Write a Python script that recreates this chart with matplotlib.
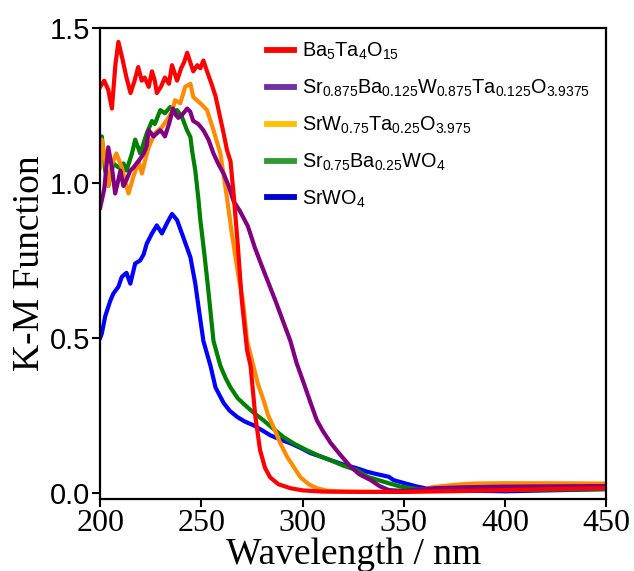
import matplotlib
matplotlib.use("Agg")
import matplotlib.pyplot as plt
from matplotlib.lines import Line2D

# Ba5Ta4O15
red_x = [200, 202, 204, 205.8, 207.5, 209, 211, 213, 215, 217, 218.8, 220.5, 222, 224, 225.6, 227, 228, 230, 232,
         234, 235.5, 237, 238, 240, 241.5, 243, 244.5, 246, 248, 249.5, 251, 252.8, 255, 257, 259, 261, 262.7, 264.4,
         266, 268, 270, 272.6, 274.3, 276.7, 279, 281.5, 284, 288, 294, 300, 310, 330, 350, 380, 400, 420, 450]
red_y = [1.31, 1.33, 1.30, 1.24, 1.38, 1.455, 1.40, 1.34, 1.29, 1.33, 1.374, 1.33, 1.34, 1.31, 1.36, 1.33, 1.29, 1.31,
         1.34, 1.32, 1.38, 1.35, 1.33, 1.37, 1.39, 1.42, 1.39, 1.36, 1.38, 1.37, 1.395, 1.36, 1.32, 1.28, 1.22, 1.16,
         1.105, 1.07, 0.96, 0.80, 0.62, 0.46, 0.41, 0.245, 0.138, 0.08, 0.05, 0.028, 0.015, 0.008, 0.004, 0.003, 0.003,
         0.006, 0.009, 0.012, 0.015]

# Sr0.875Ba0.125W0.875Ta0.125O3.9375
pur_x = [200, 202, 204, 205.8, 207.4, 209, 210, 211.5, 213, 214.9, 216.5, 218, 220, 221.5, 223, 224, 225.2, 226.4, 228,
         229.7, 231, 232, 234, 236, 237.3, 238.6, 240.5, 243, 244.5, 246, 248.5, 251, 253.5, 256, 258.5, 261, 263.5,
         266, 269, 273, 276.5, 280, 283, 286.6, 290, 294, 297, 300.6, 304, 307, 310, 314, 319, 323.8, 328, 333.7, 338,
         342.6, 350, 365, 380, 398, 420, 450]
pur_y = [0.92, 0.98, 1.115, 1.05, 0.966, 1.01, 1.04, 0.99, 1.01, 1.04, 1.05, 1.063, 1.08, 1.095, 1.12, 1.17, 1.16, 1.15,
         1.16, 1.17, 1.16, 1.15, 1.19, 1.24, 1.22, 1.21, 1.22, 1.24, 1.23, 1.20, 1.19, 1.17, 1.14, 1.095, 1.06, 1.03,
         0.99, 0.94, 0.91, 0.86, 0.79, 0.73, 0.68, 0.62, 0.56, 0.49, 0.42, 0.354, 0.29, 0.235, 0.20, 0.16, 0.12, 0.084,
         0.06, 0.041, 0.022, 0.009, 0.006, 0.015, 0.018, 0.02, 0.021, 0.022]

# SrW0.75Ta0.25O3.975
org_x = [200, 200.8, 202.5, 204, 205.8, 208, 210.7, 212.5, 214, 216.4, 219, 220.6, 222.5, 224, 227, 230.5, 233.7, 235.5,
         237, 239.6, 242, 244.6, 246, 249.5, 252.8, 256, 259.4, 262.7, 265, 268.3, 270.5, 272.6, 275.7, 278, 280.7,
         283, 285.8, 289, 292.4, 296, 299, 303, 307, 312, 320, 340, 355, 365, 375, 384.6, 400, 420, 450]
org_y = [1.05, 1.14, 1.07, 0.99, 1.06, 1.095, 1.05, 1.00, 0.966, 1.02, 1.07, 1.03, 1.08, 1.116, 1.16, 1.18, 1.21, 1.23,
         1.267, 1.257, 1.31, 1.32, 1.277, 1.257, 1.235, 1.17, 1.095, 0.95, 0.84, 0.70, 0.62, 0.49, 0.41, 0.35, 0.30,
         0.25, 0.21, 0.16, 0.116, 0.08, 0.05, 0.028, 0.015, 0.007, 0.004, 0.003, 0.005, 0.019, 0.026, 0.03, 0.031,
         0.031, 0.03]

# Sr0.75Ba0.25WO4
grn_x = [200, 200.8, 202.5, 204, 206.5, 209, 211.5, 213, 215.7, 217.3, 219.8, 223, 225.6, 227, 229.7, 232, 234.6, 236,
         238, 240.4, 242.9, 244.6, 245.4, 247, 248.6, 249.5, 251.5, 253.5, 256, 259.4, 262, 264.4, 268, 272.6, 276.5,
         280.7, 285, 290.6, 296, 302, 308, 314, 320, 327, 332, 342.6, 348.5, 356, 365, 400, 450]
grn_y = [1.10, 1.15, 1.04, 0.99, 1.063, 1.05, 1.063, 1.04, 1.095, 1.14, 1.095, 1.16, 1.20, 1.19, 1.235, 1.225, 1.245,
         1.23, 1.235, 1.213, 1.17, 1.148, 1.105, 1.04, 0.944, 0.88, 0.77, 0.65, 0.49, 0.41, 0.37, 0.34, 0.305, 0.277,
         0.255, 0.234, 0.21, 0.18, 0.158, 0.138, 0.12, 0.105, 0.088, 0.073, 0.052, 0.031, 0.02, 0.013, 0.009, 0.009,
         0.012]

# SrWO4
blu_x = [200, 200.8, 202.5, 205, 206.5, 209, 210.7, 213, 214.9, 217.3, 219.8, 221.5, 223, 225.6, 228, 230.5, 233, 235.5,
         238, 241, 244.6, 247, 248.6, 251, 254.5, 257, 261, 264, 267.7, 271.5, 275.8, 280, 284, 289, 294, 299, 304, 309,
         314, 320, 327, 332, 337, 342.6, 345, 351, 356.8, 365, 400, 450]
blu_y = [0.50, 0.514, 0.57, 0.62, 0.643, 0.665, 0.697, 0.71, 0.675, 0.74, 0.75, 0.77, 0.804, 0.837, 0.863, 0.837, 0.87,
         0.90, 0.88, 0.826, 0.76, 0.675, 0.60, 0.49, 0.41, 0.34, 0.29, 0.265, 0.245, 0.23, 0.218, 0.202, 0.186, 0.172,
         0.16, 0.145, 0.128, 0.117, 0.105, 0.092, 0.079, 0.068, 0.06, 0.052, 0.041, 0.03, 0.02, 0.009, 0.005, 0.012]

labels = [r"$\mathregular{Ba_5Ta_4O_{15}}$",
          r"$\mathregular{Sr_{0.875}Ba_{0.125}W_{0.875}Ta_{0.125}O_{3.9375}}$",
          r"$\mathregular{SrW_{0.75}Ta_{0.25}O_{3.975}}$",
          r"$\mathregular{Sr_{0.75}Ba_{0.25}WO_4}$",
          r"$\mathregular{SrWO_4}$"]
line_colors = ["#ff0000", "#800080", "#ff8c00", "#008000", "#0000ff"]
legend_colors = ["#ff0000", "#7030a0", "#ffc000", "#339933", "#0000cc"]

fig = plt.figure(figsize=(6.34, 5.71), dpi=100)
ax = fig.add_axes([0.158, 0.126, 0.798, 0.825])

# draw order: blue, green, orange, purple, red on top
series = [(blu_x, blu_y, 4), (grn_x, grn_y, 3), (org_x, org_y, 2), (pur_x, pur_y, 1), (red_x, red_y, 0)]
for xs, ys, i in series:
    ax.plot(xs, ys, color=line_colors[i], lw=3.0, solid_joinstyle="round")

ax.set_xlim(200, 450)
ax.set_ylim(-0.02, 1.5)
ax.set_xticks([200, 250, 300, 350, 400, 450])
ax.set_yticks([0.0, 0.5, 1.0, 1.5])
ax.set_yticklabels(["0.0", "0.5", "1.0", "1.5"], family="Liberation Sans", fontsize=21)
ax.set_xticklabels(["200", "250", "300", "350", "400", "450"], family="Liberation Serif", fontsize=23)
ax.tick_params(direction="out", length=6, width=1.5, pad=1)
for s in ax.spines.values():
    s.set_linewidth(1.6)

ax.set_ylabel("K-M Function", family="Liberation Serif", fontsize=27, labelpad=2)
ax.set_xlabel("Wavelength / nm", family="Liberation Serif", fontsize=27, labelpad=0)

handles = [Line2D([], [], color=c, lw=4.2) for c in legend_colors]
ax.legend(handles, labels, loc="upper left", bbox_to_anchor=(0.329, 0.972), frameon=False,
          prop={"family": "Liberation Sans", "size": 14.3}, handlelength=1.36, handletextpad=0.42,
          labelspacing=0.78, borderpad=0, borderaxespad=0)

fig.savefig("out.png", dpi=100)
